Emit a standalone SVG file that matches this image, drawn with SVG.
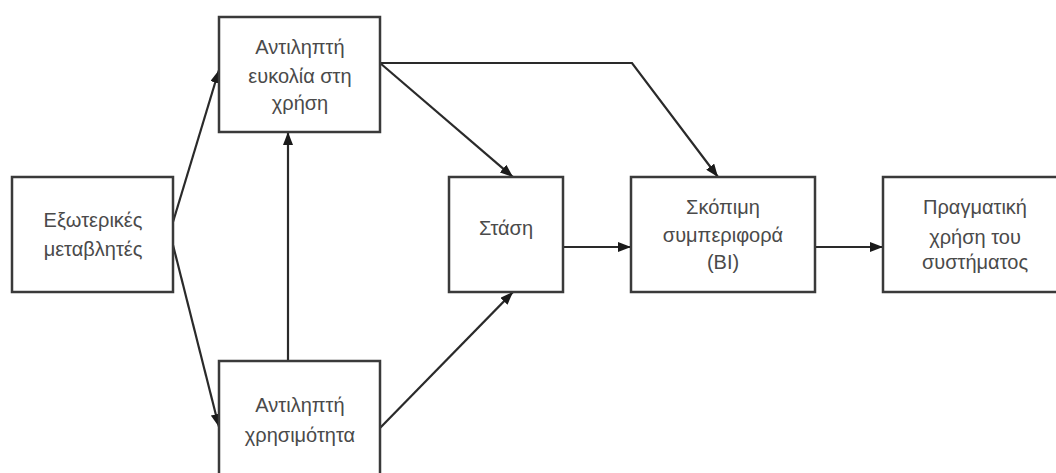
<svg xmlns="http://www.w3.org/2000/svg" width="1056" height="473" viewBox="0 0 1056 473">
<defs>
<style>
.box{fill:#fff;stroke:#3a3a3a;stroke-width:2.5}
.t{font-family:"Liberation Sans",Arial,sans-serif;font-size:20px;fill:#4a4a4a;text-anchor:middle}
.c{fill:none;stroke:#2a2a2a;stroke-width:2.2}
</style>
<marker id="ah" markerUnits="userSpaceOnUse" markerWidth="14" markerHeight="10" refX="13" refY="5" orient="auto">
<path d="M0,0 L13,5 L0,10 Z" fill="#1a1a1a"/>
</marker>
</defs>
<rect width="1056" height="473" fill="#fff"/>
<g id="connectors">
<path class="c" d="M173,222 L219,70" marker-end="url(#ah)"/>
<path class="c" d="M173,245 L219,427" marker-end="url(#ah)"/>
<path class="c" d="M288,361 L288,132" marker-end="url(#ah)"/>
<path class="c" d="M380,63 L513,177" marker-end="url(#ah)"/>
<path class="c" d="M380,63 L632,63 L718,177" marker-end="url(#ah)"/>
<path class="c" d="M380,428 L513,292" marker-end="url(#ah)"/>
<path class="c" d="M563,247 L631,247" marker-end="url(#ah)"/>
<path class="c" d="M815,247 L883,247" marker-end="url(#ah)"/>
</g>
<g id="node-external">
<rect class="box" x="12" y="177" width="161" height="115"/>
<text class="t" x="93" y="227">Εξωτερικές</text>
<text class="t" x="93" y="256">μεταβλητές</text>
</g>
<g id="node-ease">
<rect class="box" x="219" y="17" width="161" height="115"/>
<text class="t" x="300" y="54">Αντιληπτή</text>
<text class="t" x="300" y="83">ευκολία στη</text>
<text class="t" x="300" y="110">χρήση</text>
</g>
<g id="node-usefulness">
<rect class="box" x="219" y="361" width="161" height="130"/>
<text class="t" x="300" y="412">Αντιληπτή</text>
<text class="t" x="300" y="442">χρησιμότητα</text>
</g>
<g id="node-attitude">
<rect class="box" x="449" y="177" width="114" height="115"/>
<text class="t" x="506" y="235">Στάση</text>
</g>
<g id="node-intention">
<rect class="box" x="631" y="177" width="184" height="115"/>
<text class="t" x="723" y="214">Σκόπιμη</text>
<text class="t" x="723" y="242">συμπεριφορά</text>
<text class="t" x="723" y="269">(BI)</text>
</g>
<g id="node-usage">
<rect class="box" x="883" y="177" width="184" height="115"/>
<text class="t" x="975" y="214">Πραγματική</text>
<text class="t" x="975" y="244">χρήση του</text>
<text class="t" x="975" y="269">συστήματος</text>
</g>
</svg>
